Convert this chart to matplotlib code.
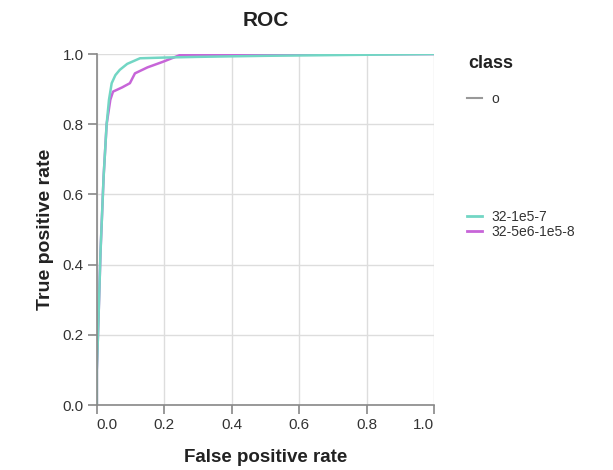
import numpy as np
import matplotlib.pyplot as plt
from matplotlib.lines import Line2D

plt.rcParams['font.family'] = ['Liberation Sans', 'DejaVu Sans']

# ROC curves
fpr_a = [0.0, 0.0, 0.005, 0.011, 0.02, 0.029, 0.036, 0.044, 0.055, 0.068, 0.09, 0.128, 0.2, 0.3, 0.5, 0.7, 1.0]
tpr_a = [0.0, 0.10, 0.25, 0.44, 0.65, 0.80, 0.87, 0.917, 0.94, 0.955, 0.972, 0.988, 0.99, 0.992, 0.995, 0.997, 1.0]
fpr_b = [0.0, 0.0, 0.005, 0.011, 0.02, 0.029, 0.04, 0.048, 0.075, 0.098, 0.113, 0.15, 0.196, 0.246, 0.4, 0.7, 1.0]
tpr_b = [0.0, 0.10, 0.25, 0.44, 0.65, 0.80, 0.87, 0.893, 0.905, 0.917, 0.945, 0.962, 0.978, 0.997, 0.998, 0.999, 1.0]
labels = ['o', '32-1e5-7', '32-5e6-1e5-8']
colors = ['#999999', '#72d6c4', '#c765d8']

fig = plt.figure(figsize=(6.13, 4.70), dpi=100)
ax = fig.add_axes([0.158, 0.138, 0.550, 0.747])

ax.plot(fpr_b, tpr_b, color=colors[2], lw=1.8, solid_joinstyle='round')
ax.plot(fpr_a, tpr_a, color=colors[1], lw=1.8, solid_joinstyle='round')

ax.set_xlim(0, 1)
ax.set_ylim(0, 1)
ticks = np.arange(0, 1.01, 0.2)
ax.set_xticks(ticks)
ax.set_yticks(ticks)
ax.set_xticklabels(['%.1f' % t for t in ticks])
ax.set_yticklabels(['%.1f' % t for t in ticks])
ax.grid(True, color='#dddddd', lw=1)
ax.set_axisbelow(True)
for s in ['top', 'right']:
    ax.spines[s].set_visible(False)
for s in ['left', 'bottom']:
    ax.spines[s].set_color('#888888')
    ax.spines[s].set_linewidth(1.2)
ax.tick_params(colors='#888888', labelsize=11, length=6.5, width=1.2, pad=3)
for lab in ax.get_xticklabels() + ax.get_yticklabels():
    lab.set_color('#333333')
xl = ax.get_xticklabels()
xl[0].set_horizontalalignment('left')
xl[-1].set_horizontalalignment('right')

ax.set_xlabel('False positive rate', fontsize=13.5, fontweight='bold', labelpad=12, color='#222222')
ax.set_ylabel('True positive rate', fontsize=14, fontweight='bold', labelpad=6, color='#222222')
ax.set_title('ROC', fontsize=15, fontweight='bold', pad=20, color='#222222')

# legend: title as text, the "o" entry, then a gap before the two runs
fig.text(468 / 613, 1 - 64 / 470, 'class', fontsize=13, fontweight='bold', color='#222222',
         ha='left', va='center')
leg_kw = dict(frameon=False, fontsize=10, handlelength=1.1, handletextpad=0.7,
              labelspacing=0.1, borderaxespad=0, loc='upper left')
leg1 = fig.legend([Line2D([], [], color=colors[0], lw=1.5)], labels[:1],
                  bbox_to_anchor=(0.752, 1 - 86 / 470), **leg_kw)
leg2 = fig.legend([Line2D([], [], color=c, lw=2) for c in colors[1:]], labels[1:],
                  bbox_to_anchor=(0.752, 1 - 204 / 470), **leg_kw)
for leg in (leg1, leg2):
    for t in leg.get_texts():
        t.set_color('#333333')

fig.savefig('out.png', dpi=100)
